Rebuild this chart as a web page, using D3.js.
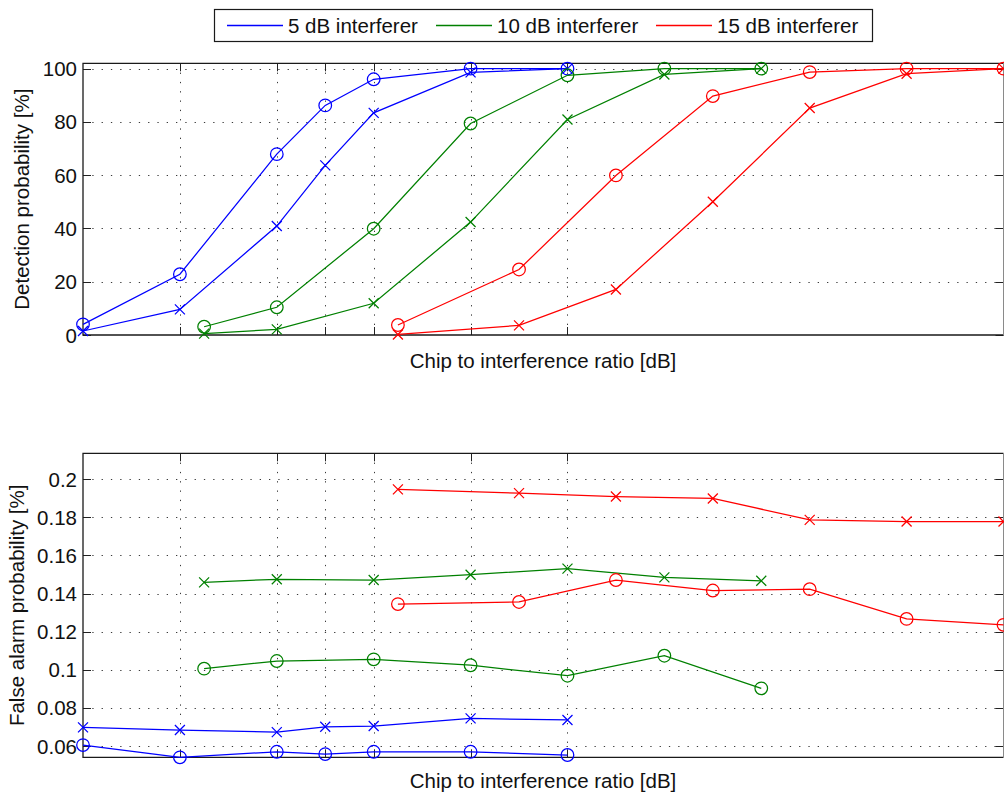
<!DOCTYPE html>
<html>
<head>
<meta charset="utf-8">
<script src="https://cdn.jsdelivr.net/npm/d3@7"></script>
<style>
  html, body { margin: 0; padding: 0; background: #fff; }
  svg { display: block; font-family: "Liberation Sans", Arial, Helvetica, sans-serif; }
</style>
</head>
<body>
<svg id="chart" width="1004" height="796"></svg>
<script>
// Chip-to-interference ratio [dB] for each interferer level
const cirBlue  = [-12, -10, -8, -7, -6, -4, -2];
const cirGreen = [-9.5, -8, -6, -4, -2, 0, 2];
const cirRed   = [-5.5, -3, -1, 1, 3, 5, 7];

// Grid positions along x (no labels are printed)
const xTicks = [-10, -8, -7, -6, -4, -2];

// Detection probability [%]  (o = first detector, x = second detector)
const detBlueO  = [4.0, 22.8, 67.9, 86.2, 96.0, 100, 100];
const detBlueX  = [1.5, 9.6, 40.9, 63.7, 83.4, 98.6, 100];
const detGreenO = [3.1, 10.4, 39.9, 79.4, 97.5, 100, 100];
const detGreenX = [0.5, 2.1, 11.9, 42.4, 80.9, 97.8, 100];
const detRedO   = [3.75, 24.6, 59.9, 89.7, 98.7, 100, 100];
const detRedX   = [0.2, 3.6, 17.1, 50.0, 85.2, 98.1, 100];

// False alarm probability [%]
const faBlueO  = [0.0605, 0.0541, 0.0570, 0.0558, 0.0570, 0.0570, 0.0553];
const faBlueX  = [0.0698, 0.0684, 0.0673, 0.0701, 0.0705, 0.0745, 0.0737];
const faGreenO = [0.1006, 0.1046, 0.1055, 0.1024, 0.0969, 0.1074, 0.0903];
const faGreenX = [0.1459, 0.1475, 0.1471, 0.1499, 0.1531, 0.1485, 0.1467];
const faRedO   = [0.1345, 0.1356, 0.1471, 0.1416, 0.1423, 0.1267, 0.1236];
const faRedX   = [0.1947, 0.1927, 0.1909, 0.1899, 0.1787, 0.1778, 0.1778];

const detTicks = [0, 20, 40, 60, 80, 100];
const faTicks  = [0.06, 0.08, 0.1, 0.12, 0.14, 0.16, 0.18, 0.2];
const faTickLabels = ["0.06", "0.08", "0.1", "0.12", "0.14", "0.16", "0.18", "0.2"];

const legendLabels = ["5 dB interferer", "10 dB interferer", "15 dB interferer"];
const colors = ["#0000ff", "#008000", "#ff0000"];

const svg = d3.select("#chart");
const FONT = 20.5;
const LW = 1.25;

const x = d3.scaleLinear().domain([-12, 7]).range([83, 1003.5]);

function drawPanel(cfg) {
  const { top, bottom, yDomain, yTicks, yLabels, ylabel, ylabelX, xlabelY, series } = cfg;
  const y = d3.scaleLinear().domain(yDomain).range([bottom, top]);
  const g = svg.append("g");
  const left = x.range()[0], right = x.range()[1];

  // dotted grid
  const grid = g.append("g")
    .attr("stroke", "#3a3a3a").attr("stroke-width", 1)
    .attr("stroke-dasharray", "1.3,8");
  grid.selectAll("line.vg").data(xTicks).join("line")
    .attr("x1", d => Math.round(x(d)) + 0.5).attr("x2", d => Math.round(x(d)) + 0.5)
    .attr("y1", top).attr("y2", bottom);
  grid.selectAll("line.hg").data(yTicks.filter(v => y(v) < bottom - 2)).join("line")
    .attr("x1", left).attr("x2", right)
    .attr("y1", d => Math.round(y(d)) + 0.5).attr("y2", d => Math.round(y(d)) + 0.5);

  // inward ticks on all four sides
  const tl = 8;
  const ticks = g.append("g").attr("stroke", "#222").attr("stroke-width", 1);
  xTicks.forEach(v => {
    const px = Math.round(x(v)) + 0.5;
    ticks.append("line").attr("x1", px).attr("x2", px).attr("y1", bottom).attr("y2", bottom - tl);
    ticks.append("line").attr("x1", px).attr("x2", px).attr("y1", top).attr("y2", top + tl);
  });
  yTicks.forEach(v => {
    const py = Math.round(y(v)) + 0.5;
    ticks.append("line").attr("x1", left).attr("x2", left + tl).attr("y1", py).attr("y2", py);
    ticks.append("line").attr("x1", right - tl).attr("x2", right).attr("y1", py).attr("y2", py);
  });

  // axes box
  g.append("path")
    .attr("d", `M${right},${top}H${left}V${bottom}H${right}`)
    .attr("fill", "none").attr("stroke", "#1a1a1a").attr("stroke-width", 1.3);
  g.append("line").attr("x1", right).attr("x2", right).attr("y1", top).attr("y2", bottom)
    .attr("stroke", "#8a8a8a").attr("stroke-width", 1);

  // y tick labels
  g.append("g").selectAll("text").data(yTicks).join("text")
    .attr("x", 77).attr("y", d => y(d) + 7.5)
    .attr("text-anchor", "end").attr("font-size", FONT).attr("fill", "#111")
    .text((d, i) => yLabels[i]);

  // axis labels
  g.append("text")
    .attr("transform", `translate(${ylabelX},${(top + bottom) / 2}) rotate(-90)`)
    .attr("text-anchor", "middle").attr("font-size", FONT).attr("fill", "#111")
    .text(ylabel);
  g.append("text")
    .attr("x", 543).attr("y", xlabelY)
    .attr("text-anchor", "middle").attr("font-size", FONT).attr("fill", "#111")
    .text("Chip to interference ratio [dB]");

  // data lines with circle and cross markers
  const line = d3.line().x(d => x(d[0])).y(d => y(d[1]));
  series.forEach(s => {
    const pts = s.xs.map((xv, i) => [xv, s.ys[i]]);
    const sg = g.append("g").attr("stroke", s.color).attr("fill", "none").attr("stroke-width", LW);
    sg.append("path").attr("d", line(pts));
    if (s.marker === "o") {
      sg.selectAll("circle").data(pts).join("circle")
        .attr("cx", d => x(d[0])).attr("cy", d => y(d[1])).attr("r", 6.3);
    } else {
      const r = 5;
      sg.selectAll("path.m").data(pts).join("path").attr("class", "m")
        .attr("d", d => {
          const cx = x(d[0]), cy = y(d[1]);
          return `M${cx - r},${cy - r}L${cx + r},${cy + r}M${cx - r},${cy + r}L${cx + r},${cy - r}`;
        });
    }
  });
}

drawPanel({
  top: 63.3, bottom: 335, yDomain: [0, 102], yTicks: detTicks,
  yLabels: detTicks.map(String),
  ylabel: "Detection probability [%]", ylabelX: 29, xlabelY: 367.5,
  series: [
    { xs: cirBlue,  ys: detBlueO,  color: colors[0], marker: "o" },
    { xs: cirBlue,  ys: detBlueX,  color: colors[0], marker: "x" },
    { xs: cirGreen, ys: detGreenO, color: colors[1], marker: "o" },
    { xs: cirGreen, ys: detGreenX, color: colors[1], marker: "x" },
    { xs: cirRed,   ys: detRedO,   color: colors[2], marker: "o" },
    { xs: cirRed,   ys: detRedX,   color: colors[2], marker: "x" }
  ]
});

drawPanel({
  top: 453.3, bottom: 757.3, yDomain: [0.0541, 0.2136], yTicks: faTicks,
  yLabels: faTickLabels,
  ylabel: "False alarm probability [%]", ylabelX: 24, xlabelY: 788,
  series: [
    { xs: cirBlue,  ys: faBlueO,  color: colors[0], marker: "o" },
    { xs: cirBlue,  ys: faBlueX,  color: colors[0], marker: "x" },
    { xs: cirGreen, ys: faGreenO, color: colors[1], marker: "o" },
    { xs: cirGreen, ys: faGreenX, color: colors[1], marker: "x" },
    { xs: cirRed,   ys: faRedO,   color: colors[2], marker: "o" },
    { xs: cirRed,   ys: faRedX,   color: colors[2], marker: "x" }
  ]
});

// legend
const legend = svg.append("g");
legend.append("rect")
  .attr("x", 214.5).attr("y", 9.5).attr("width", 658).attr("height", 32)
  .attr("fill", "#fff").attr("stroke", "#1a1a1a").attr("stroke-width", 1.2);
const legendStarts = [227, 436, 656];
legendLabels.forEach((lab, i) => {
  const x0 = legendStarts[i];
  legend.append("path")
    .attr("d", `M${x0},25.5H${x0 + 56}`)
    .attr("fill", "none")
    .attr("stroke", colors[i]).attr("stroke-width", 1.4);
  legend.append("text")
    .attr("x", x0 + 61).attr("y", 32.5)
    .attr("font-size", FONT).attr("fill", "#111")
    .text(lab);
});
</script>
</body>
</html>
